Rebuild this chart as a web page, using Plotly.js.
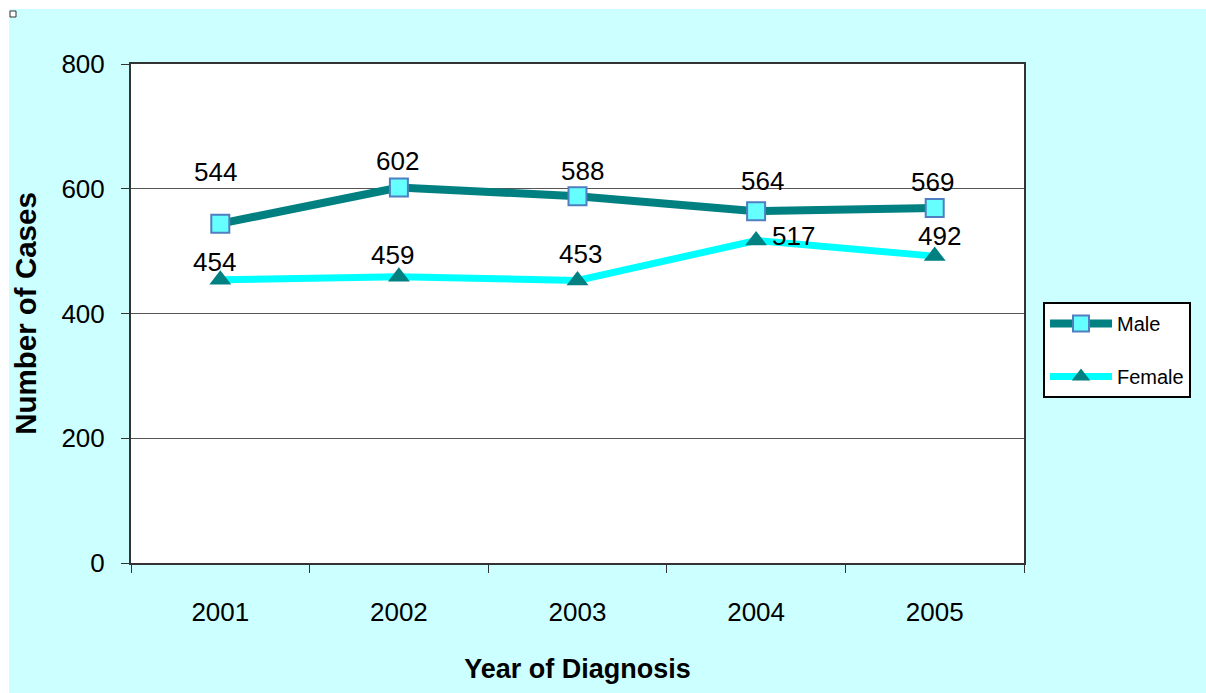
<!DOCTYPE html>
<html><head><meta charset="utf-8">
<script src="https://cdn.plot.ly/plotly-3.0.1.min.js"></script>
<style>html,body{margin:0;padding:0;background:#fff}</style>
</head><body><div id="chart" style="width:1206px;height:693px"></div>
<script>
// ---- data ----
const years = ['2001', '2002', '2003', '2004', '2005'];
const male = [544, 602, 588, 564, 569];
const female = [454, 459, 453, 517, 492];
const yTickVals = [0, 200, 400, 600, 800];
const seriesNames = ['Male', 'Female'];

// ---- layout helpers (pixel geometry) ----
const W = 1206, H = 693;
const M = {l: 131, r: 182, t: 64, b: 130};
const PW = W - M.l - M.r, PH = H - M.t - M.b;
const px = x => (x - M.l) / PW;
const py = y => (H - M.b - y) / PH;
const FONT = 'Liberation Sans, Arial, sans-serif';

// label offsets in pixels [xshift, yshift]
const maleLabelShift = [[-5, 52], [-1, 27], [5, 25], [6, 30], [-2, 26]];
const femaleLabelShift = [[-6, 18], [-6, 22], [3, 26], [37, 5], [5, 20]];

const traces = [
  {
    x: years, y: male, name: seriesNames[0], type: 'scatter', mode: 'lines+markers',
    legendgroup: 'a',
    line: {color: '#008080', width: 8},
    marker: {symbol: 'square', size: 18, color: '#66FFFF', line: {color: '#4F7FC0', width: 2}}
  },
  {
    x: years, y: female, name: seriesNames[1], type: 'scatter', mode: 'lines+markers',
    legendgroup: 'b',
    line: {color: '#00FFFF', width: 7},
    marker: {symbol: 'triangle-up', size: 19, color: '#008080', line: {width: 0}}
  }
];

// category axis: annotations use the category index
const annotations = [];
male.forEach((v, i) => annotations.push({
  x: years.indexOf(years[i]), y: v, xref: 'x', yref: 'y', text: String(v), showarrow: false,
  xshift: maleLabelShift[i][0], yshift: maleLabelShift[i][1],
  font: {family: FONT, size: 26, color: '#000'}
}));
female.forEach((v, i) => annotations.push({
  x: years.indexOf(years[i]), y: v, xref: 'x', yref: 'y', text: String(v), showarrow: false,
  xshift: femaleLabelShift[i][0], yshift: femaleLabelShift[i][1],
  font: {family: FONT, size: 26, color: '#000'}
}));

const shapes = [
  {type: 'rect', xref: 'paper', yref: 'paper', layer: 'below',
   x0: px(0), x1: px(W), y0: py(0), y1: py(9), fillcolor: '#FFFFFF', line: {width: 0}},
  {type: 'rect', xref: 'paper', yref: 'paper', layer: 'below',
   x0: px(0), x1: px(9), y0: py(0), y1: py(H), fillcolor: '#FFFFFF', line: {width: 0}},
  {type: 'rect', xref: 'paper', yref: 'paper', layer: 'above',
   x0: px(10), x1: px(16), y0: py(11), y1: py(17), fillcolor: '#FFFFFF', line: {color: '#333', width: 1}}
];

const layout = {
  width: W, height: H,
  margin: M,
  paper_bgcolor: '#CCFFFF',
  plot_bgcolor: '#FFFFFF',
  font: {family: FONT, color: '#000'},
  showlegend: true,
  legend: {
    x: px(1043), y: py(302), xanchor: 'left', yanchor: 'top',
    bgcolor: '#FFFFFF', bordercolor: '#000', borderwidth: 2,
    font: {family: FONT, size: 20, color: '#000'},
    tracegroupgap: 24, itemwidth: 62
  },
  xaxis: {
    type: 'category', range: [-0.5, 4.5],
    showgrid: false, zeroline: false,
    showline: true, linecolor: '#333', linewidth: 2, mirror: true,
    ticks: 'outside', ticklen: 8, tickwidth: 1, tickcolor: '#333',
    tickson: 'boundaries', ticklabelstandoff: 25,
    tickfont: {family: FONT, size: 26, color: '#000'},
    title: {text: 'Year of Diagnosis', standoff: 33,
            font: {family: FONT, size: 27, weight: 'bold', color: '#000'}}
  },
  yaxis: {
    range: [0, 800], tickvals: yTickVals, ticktext: yTickVals.map(String),
    showgrid: true, gridcolor: '#555', gridwidth: 1, zeroline: false,
    showline: true, linecolor: '#333', linewidth: 2, mirror: true,
    ticks: 'outside', ticklen: 8, tickwidth: 1, tickcolor: '#333',
    ticklabelstandoff: 11,
    tickfont: {family: FONT, size: 26, color: '#000'},
    title: {text: 'Number of Cases', standoff: 16,
            font: {family: FONT, size: 29.5, weight: 'bold', color: '#000'}}
  },
  annotations: annotations,
  shapes: shapes
};

Plotly.newPlot('chart', traces, layout, {displayModeBar: false, responsive: false});
</script>
</body></html>
